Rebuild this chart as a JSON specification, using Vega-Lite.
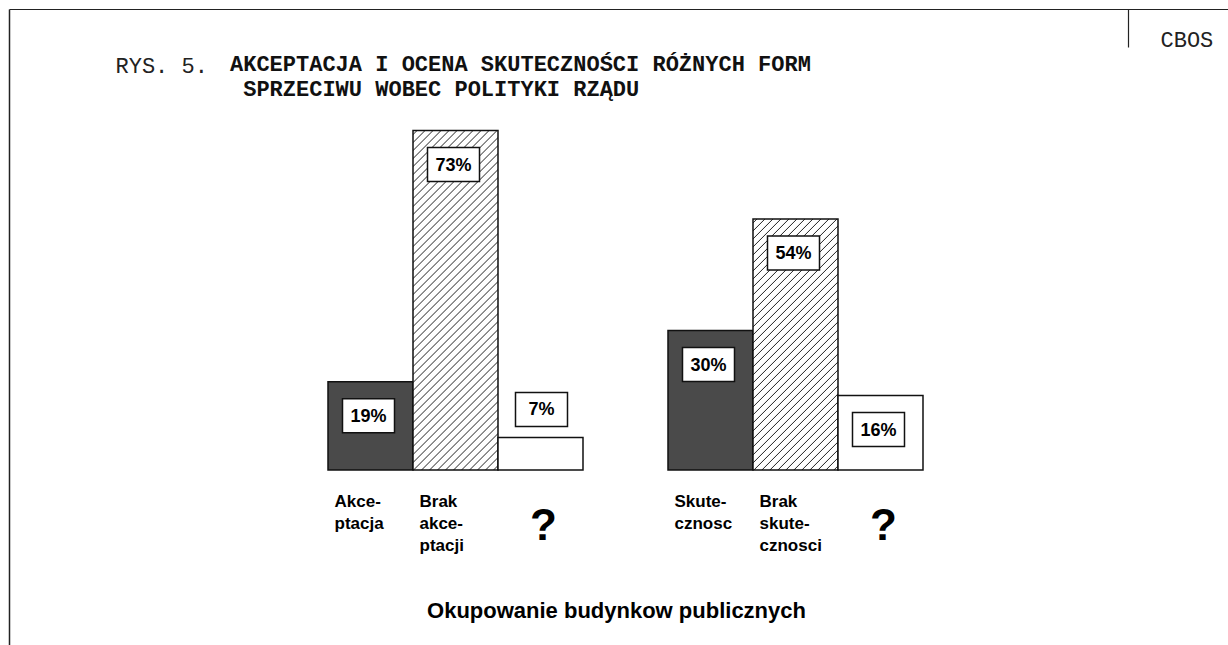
{
 "$schema": "https://vega.github.io/schema/vega-lite/v6.json",
 "width": 1219, "height": 636,
 "autosize": "none",
 "padding": {"left": 9, "top": 9, "right": 0, "bottom": 0},
 "background": "white",
 "config": {"view": {"stroke": null}, "font": "Liberation Sans"},
 "title": {"text": ["AKCEPTACJA I OCENA SKUTECZNOŚCI RÓŻNYCH FORM", "\u200b\u00a0SPRZECIWU WOBEC POLITYKI RZĄDU"], "anchor": "start", "frame": "group", "dx": 221, "dy": 110, "offset": 0, "font": "Liberation Mono", "fontSize": 22, "fontWeight": "bold", "lineHeight": 25, "baseline": "alphabetic", "color": "#111"},
 "data": {"values": [
  {"group": "Akceptacja", "cat": "Akceptacja", "kind": "positive", "value": 19, "label": "19%"},
  {"group": "Akceptacja", "cat": "Brak akceptacji", "kind": "negative", "value": 73, "label": "73%"},
  {"group": "Akceptacja", "cat": "?1", "kind": "unknown", "value": 7, "label": "7%"},
  {"group": "Skutecznosc", "cat": "Skutecznosc", "kind": "positive", "value": 30, "label": "30%"},
  {"group": "Skutecznosc", "cat": "Brak skutecznosci", "kind": "negative", "value": 54, "label": "54%"},
  {"group": "Skutecznosc", "cat": "?2", "kind": "unknown", "value": 16, "label": "16%"}
 ]},
 "encoding": {
  "x": {"field": "cat", "type": "nominal", "scale": {"type": "band", "domain": ["_l1", "_l2", "_l3", "Akceptacja", "Brak akceptacji", "?1", "_", "Skutecznosc", "Brak skutecznosci", "?2", "_r1", "_r2", "_r3"], "paddingInner": 0, "paddingOuter": 0.6706, "align": 0.5614}, "axis": null},
  "y": {"field": "value", "type": "quantitative", "scale": {"domain": [-37.63, 99.14], "nice": false, "zero": false},
        "axis": {"orient": "left", "domain": true, "domainColor": "#222", "domainWidth": 1.5, "ticks": false, "labels": false, "grid": false, "title": "RYS. 5.", "titleFont": "Liberation Mono", "titleFontSize": 22, "titleFontWeight": "normal", "titleAngle": 0, "titleX": 106, "titleY": 63, "titleAlign": "left", "titleBaseline": "alphabetic", "titleColor": "#222"}}
 },
 "layer": [
  {"transform": [{"filter": "datum.kind == 'positive'"}],
   "mark": {"type": "bar", "fill": "#4a4a4a", "stroke": "#111", "strokeWidth": 1.5},
   "encoding": {"x": {"field": "cat", "type": "nominal", "scale": {"type": "band", "domain": ["_l1", "_l2", "_l3", "Akceptacja", "Brak akceptacji", "?1", "_", "Skutecznosc", "Brak skutecznosci", "?2", "_r1", "_r2", "_r3"], "paddingInner": 0, "paddingOuter": 0.6706, "align": 0.5614},
     "axis": {"orient": "bottom", "offset": -173, "domain": false, "ticks": false, "tickSize": 0, "grid": false, "labelAngle": 0,
      "labelExpr": "datum.value == 'Akceptacja' ? ['Akce-', 'ptacja'] : datum.value == 'Brak akceptacji' ? ['Brak', 'akce-', 'ptacji'] : datum.value == 'Skutecznosc' ? ['Skute-', 'cznosc'] : datum.value == 'Brak skutecznosci' ? ['Brak', 'skute-', 'cznosci'] : (datum.value == '?1' || datum.value == '?2') ? '?' : ''",
      "labelFont": "Liberation Sans", "labelFontWeight": "bold",
      "labelFontSize": {"condition": {"test": "datum.value == '?1' || datum.value == '?2'", "value": 44}, "value": 17},
      "labelAlign": {"condition": {"test": "datum.value == '?1' || datum.value == '?2'", "value": "center"}, "value": "left"},
      "labelOffset": {"condition": {"test": "datum.value == '?1' || datum.value == '?2'", "value": 3}, "value": -36},
      "labelPadding": {"condition": {"test": "datum.value == '?1' || datum.value == '?2'", "value": 32}, "value": 21},
      "labelLineHeight": 22, "labelBaseline": "top", "labelColor": "#000", "labelOverlap": false, "labelBound": false, "labelFlush": false, "labelLimit": 300,
      "title": "Okupowanie budynkow publicznych", "titleFont": "Liberation Sans", "titleFontSize": 22, "titleFontWeight": "bold", "titleColor": "#000", "titleX": 607, "titleY": 145, "titleAlign": "center", "titleBaseline": "alphabetic", "titleAngle": 0}}}},
  {"transform": [{"filter": "datum.cat == 'Brak akceptacji'"}],
   "mark": {"type": "bar", "stroke": "#111", "strokeWidth": 1.5,
    "fill": {"gradient": "linear", "x1": 0, "y1": 0, "x2": 0.295, "y2": 1.17812, "stops": [
{"offset":0.00706,"color":"#fff"},{"offset":0.00941,"color":"#222"},{"offset":0.01176,"color":"#fff"},
{"offset":0.02588,"color":"#fff"},{"offset":0.02824,"color":"#222"},{"offset":0.03059,"color":"#fff"},
{"offset":0.04471,"color":"#fff"},{"offset":0.04706,"color":"#222"},{"offset":0.04941,"color":"#fff"},
{"offset":0.06353,"color":"#fff"},{"offset":0.06588,"color":"#222"},{"offset":0.06824,"color":"#fff"},
{"offset":0.08235,"color":"#fff"},{"offset":0.08471,"color":"#222"},{"offset":0.08706,"color":"#fff"},
{"offset":0.10118,"color":"#fff"},{"offset":0.10353,"color":"#222"},{"offset":0.10588,"color":"#fff"},
{"offset":0.12,"color":"#fff"},{"offset":0.12235,"color":"#222"},{"offset":0.12471,"color":"#fff"},
{"offset":0.13882,"color":"#fff"},{"offset":0.14118,"color":"#222"},{"offset":0.14353,"color":"#fff"},
{"offset":0.15765,"color":"#fff"},{"offset":0.16,"color":"#222"},{"offset":0.16235,"color":"#fff"},
{"offset":0.17647,"color":"#fff"},{"offset":0.17882,"color":"#222"},{"offset":0.18118,"color":"#fff"},
{"offset":0.19529,"color":"#fff"},{"offset":0.19765,"color":"#222"},{"offset":0.2,"color":"#fff"},
{"offset":0.21412,"color":"#fff"},{"offset":0.21647,"color":"#222"},{"offset":0.21882,"color":"#fff"},
{"offset":0.23294,"color":"#fff"},{"offset":0.23529,"color":"#222"},{"offset":0.23765,"color":"#fff"},
{"offset":0.25176,"color":"#fff"},{"offset":0.25412,"color":"#222"},{"offset":0.25647,"color":"#fff"},
{"offset":0.27059,"color":"#fff"},{"offset":0.27294,"color":"#222"},{"offset":0.27529,"color":"#fff"},
{"offset":0.28941,"color":"#fff"},{"offset":0.29176,"color":"#222"},{"offset":0.29412,"color":"#fff"},
{"offset":0.30824,"color":"#fff"},{"offset":0.31059,"color":"#222"},{"offset":0.31294,"color":"#fff"},
{"offset":0.32706,"color":"#fff"},{"offset":0.32941,"color":"#222"},{"offset":0.33176,"color":"#fff"},
{"offset":0.34588,"color":"#fff"},{"offset":0.34824,"color":"#222"},{"offset":0.35059,"color":"#fff"},
{"offset":0.36471,"color":"#fff"},{"offset":0.36706,"color":"#222"},{"offset":0.36941,"color":"#fff"},
{"offset":0.38353,"color":"#fff"},{"offset":0.38588,"color":"#222"},{"offset":0.38824,"color":"#fff"},
{"offset":0.40235,"color":"#fff"},{"offset":0.40471,"color":"#222"},{"offset":0.40706,"color":"#fff"},
{"offset":0.42118,"color":"#fff"},{"offset":0.42353,"color":"#222"},{"offset":0.42588,"color":"#fff"},
{"offset":0.44,"color":"#fff"},{"offset":0.44235,"color":"#222"},{"offset":0.44471,"color":"#fff"},
{"offset":0.45882,"color":"#fff"},{"offset":0.46118,"color":"#222"},{"offset":0.46353,"color":"#fff"},
{"offset":0.47765,"color":"#fff"},{"offset":0.48,"color":"#222"},{"offset":0.48235,"color":"#fff"},
{"offset":0.49647,"color":"#fff"},{"offset":0.49882,"color":"#222"},{"offset":0.50118,"color":"#fff"},
{"offset":0.51529,"color":"#fff"},{"offset":0.51765,"color":"#222"},{"offset":0.52,"color":"#fff"},
{"offset":0.53412,"color":"#fff"},{"offset":0.53647,"color":"#222"},{"offset":0.53882,"color":"#fff"},
{"offset":0.55294,"color":"#fff"},{"offset":0.55529,"color":"#222"},{"offset":0.55765,"color":"#fff"},
{"offset":0.57176,"color":"#fff"},{"offset":0.57412,"color":"#222"},{"offset":0.57647,"color":"#fff"},
{"offset":0.59059,"color":"#fff"},{"offset":0.59294,"color":"#222"},{"offset":0.59529,"color":"#fff"},
{"offset":0.60941,"color":"#fff"},{"offset":0.61176,"color":"#222"},{"offset":0.61412,"color":"#fff"},
{"offset":0.62824,"color":"#fff"},{"offset":0.63059,"color":"#222"},{"offset":0.63294,"color":"#fff"},
{"offset":0.64706,"color":"#fff"},{"offset":0.64941,"color":"#222"},{"offset":0.65176,"color":"#fff"},
{"offset":0.66588,"color":"#fff"},{"offset":0.66824,"color":"#222"},{"offset":0.67059,"color":"#fff"},
{"offset":0.68471,"color":"#fff"},{"offset":0.68706,"color":"#222"},{"offset":0.68941,"color":"#fff"},
{"offset":0.70353,"color":"#fff"},{"offset":0.70588,"color":"#222"},{"offset":0.70824,"color":"#fff"},
{"offset":0.72235,"color":"#fff"},{"offset":0.72471,"color":"#222"},{"offset":0.72706,"color":"#fff"},
{"offset":0.74118,"color":"#fff"},{"offset":0.74353,"color":"#222"},{"offset":0.74588,"color":"#fff"},
{"offset":0.76,"color":"#fff"},{"offset":0.76235,"color":"#222"},{"offset":0.76471,"color":"#fff"},
{"offset":0.77882,"color":"#fff"},{"offset":0.78118,"color":"#222"},{"offset":0.78353,"color":"#fff"},
{"offset":0.79765,"color":"#fff"},{"offset":0.8,"color":"#222"},{"offset":0.80235,"color":"#fff"},
{"offset":0.81647,"color":"#fff"},{"offset":0.81882,"color":"#222"},{"offset":0.82118,"color":"#fff"},
{"offset":0.83529,"color":"#fff"},{"offset":0.83765,"color":"#222"},{"offset":0.84,"color":"#fff"},
{"offset":0.85412,"color":"#fff"},{"offset":0.85647,"color":"#222"},{"offset":0.85882,"color":"#fff"},
{"offset":0.87294,"color":"#fff"},{"offset":0.87529,"color":"#222"},{"offset":0.87765,"color":"#fff"},
{"offset":0.89176,"color":"#fff"},{"offset":0.89412,"color":"#222"},{"offset":0.89647,"color":"#fff"},
{"offset":0.91059,"color":"#fff"},{"offset":0.91294,"color":"#222"},{"offset":0.91529,"color":"#fff"},
{"offset":0.92941,"color":"#fff"},{"offset":0.93176,"color":"#222"},{"offset":0.93412,"color":"#fff"},
{"offset":0.94824,"color":"#fff"},{"offset":0.95059,"color":"#222"},{"offset":0.95294,"color":"#fff"},
{"offset":0.96706,"color":"#fff"},{"offset":0.96941,"color":"#222"},{"offset":0.97176,"color":"#fff"},
{"offset":0.98588,"color":"#fff"},{"offset":0.98824,"color":"#222"},{"offset":0.99059,"color":"#fff"}
    ]}}},
  {"transform": [{"filter": "datum.cat == 'Brak skutecznosci'"}],
   "mark": {"type": "bar", "stroke": "#111", "strokeWidth": 1.5,
    "fill": {"gradient": "linear", "x1": 0, "y1": 0, "x2": 0.51401, "y2": 1.5185, "stops": [
{"offset":0.00706,"color":"#fff"},{"offset":0.00941,"color":"#222"},{"offset":0.01176,"color":"#fff"},
{"offset":0.02588,"color":"#fff"},{"offset":0.02824,"color":"#222"},{"offset":0.03059,"color":"#fff"},
{"offset":0.04471,"color":"#fff"},{"offset":0.04706,"color":"#222"},{"offset":0.04941,"color":"#fff"},
{"offset":0.06353,"color":"#fff"},{"offset":0.06588,"color":"#222"},{"offset":0.06824,"color":"#fff"},
{"offset":0.08235,"color":"#fff"},{"offset":0.08471,"color":"#222"},{"offset":0.08706,"color":"#fff"},
{"offset":0.10118,"color":"#fff"},{"offset":0.10353,"color":"#222"},{"offset":0.10588,"color":"#fff"},
{"offset":0.12,"color":"#fff"},{"offset":0.12235,"color":"#222"},{"offset":0.12471,"color":"#fff"},
{"offset":0.13882,"color":"#fff"},{"offset":0.14118,"color":"#222"},{"offset":0.14353,"color":"#fff"},
{"offset":0.15765,"color":"#fff"},{"offset":0.16,"color":"#222"},{"offset":0.16235,"color":"#fff"},
{"offset":0.17647,"color":"#fff"},{"offset":0.17882,"color":"#222"},{"offset":0.18118,"color":"#fff"},
{"offset":0.19529,"color":"#fff"},{"offset":0.19765,"color":"#222"},{"offset":0.2,"color":"#fff"},
{"offset":0.21412,"color":"#fff"},{"offset":0.21647,"color":"#222"},{"offset":0.21882,"color":"#fff"},
{"offset":0.23294,"color":"#fff"},{"offset":0.23529,"color":"#222"},{"offset":0.23765,"color":"#fff"},
{"offset":0.25176,"color":"#fff"},{"offset":0.25412,"color":"#222"},{"offset":0.25647,"color":"#fff"},
{"offset":0.27059,"color":"#fff"},{"offset":0.27294,"color":"#222"},{"offset":0.27529,"color":"#fff"},
{"offset":0.28941,"color":"#fff"},{"offset":0.29176,"color":"#222"},{"offset":0.29412,"color":"#fff"},
{"offset":0.30824,"color":"#fff"},{"offset":0.31059,"color":"#222"},{"offset":0.31294,"color":"#fff"},
{"offset":0.32706,"color":"#fff"},{"offset":0.32941,"color":"#222"},{"offset":0.33176,"color":"#fff"},
{"offset":0.34588,"color":"#fff"},{"offset":0.34824,"color":"#222"},{"offset":0.35059,"color":"#fff"},
{"offset":0.36471,"color":"#fff"},{"offset":0.36706,"color":"#222"},{"offset":0.36941,"color":"#fff"},
{"offset":0.38353,"color":"#fff"},{"offset":0.38588,"color":"#222"},{"offset":0.38824,"color":"#fff"},
{"offset":0.40235,"color":"#fff"},{"offset":0.40471,"color":"#222"},{"offset":0.40706,"color":"#fff"},
{"offset":0.42118,"color":"#fff"},{"offset":0.42353,"color":"#222"},{"offset":0.42588,"color":"#fff"},
{"offset":0.44,"color":"#fff"},{"offset":0.44235,"color":"#222"},{"offset":0.44471,"color":"#fff"},
{"offset":0.45882,"color":"#fff"},{"offset":0.46118,"color":"#222"},{"offset":0.46353,"color":"#fff"},
{"offset":0.47765,"color":"#fff"},{"offset":0.48,"color":"#222"},{"offset":0.48235,"color":"#fff"},
{"offset":0.49647,"color":"#fff"},{"offset":0.49882,"color":"#222"},{"offset":0.50118,"color":"#fff"},
{"offset":0.51529,"color":"#fff"},{"offset":0.51765,"color":"#222"},{"offset":0.52,"color":"#fff"},
{"offset":0.53412,"color":"#fff"},{"offset":0.53647,"color":"#222"},{"offset":0.53882,"color":"#fff"},
{"offset":0.55294,"color":"#fff"},{"offset":0.55529,"color":"#222"},{"offset":0.55765,"color":"#fff"},
{"offset":0.57176,"color":"#fff"},{"offset":0.57412,"color":"#222"},{"offset":0.57647,"color":"#fff"},
{"offset":0.59059,"color":"#fff"},{"offset":0.59294,"color":"#222"},{"offset":0.59529,"color":"#fff"},
{"offset":0.60941,"color":"#fff"},{"offset":0.61176,"color":"#222"},{"offset":0.61412,"color":"#fff"},
{"offset":0.62824,"color":"#fff"},{"offset":0.63059,"color":"#222"},{"offset":0.63294,"color":"#fff"},
{"offset":0.64706,"color":"#fff"},{"offset":0.64941,"color":"#222"},{"offset":0.65176,"color":"#fff"},
{"offset":0.66588,"color":"#fff"},{"offset":0.66824,"color":"#222"},{"offset":0.67059,"color":"#fff"},
{"offset":0.68471,"color":"#fff"},{"offset":0.68706,"color":"#222"},{"offset":0.68941,"color":"#fff"},
{"offset":0.70353,"color":"#fff"},{"offset":0.70588,"color":"#222"},{"offset":0.70824,"color":"#fff"},
{"offset":0.72235,"color":"#fff"},{"offset":0.72471,"color":"#222"},{"offset":0.72706,"color":"#fff"},
{"offset":0.74118,"color":"#fff"},{"offset":0.74353,"color":"#222"},{"offset":0.74588,"color":"#fff"},
{"offset":0.76,"color":"#fff"},{"offset":0.76235,"color":"#222"},{"offset":0.76471,"color":"#fff"},
{"offset":0.77882,"color":"#fff"},{"offset":0.78118,"color":"#222"},{"offset":0.78353,"color":"#fff"},
{"offset":0.79765,"color":"#fff"},{"offset":0.8,"color":"#222"},{"offset":0.80235,"color":"#fff"}
    ]}}},
  {"transform": [{"filter": "datum.kind == 'unknown'"}],
   "mark": {"type": "bar", "fill": "#fff", "stroke": "#111", "strokeWidth": 1.5},
   "encoding": {"x": {"field": "cat", "type": "nominal", "scale": {"type": "band", "domain": ["_l1", "_l2", "_l3", "Akceptacja", "Brak akceptacji", "?1", "_", "Skutecznosc", "Brak skutecznosci", "?2", "_r1", "_r2", "_r3"], "paddingInner": 0, "paddingOuter": 0.6706, "align": 0.5614},
     "axis": {"orient": "top", "domain": true, "domainColor": "#222", "domainWidth": 1, "values": ["_r3"], "ticks": true, "tickSize": -38, "tickOffset": -7.5, "tickColor": "#222", "tickWidth": 1.2, "labels": false, "grid": false, "title": "CBOS", "titleFont": "Liberation Mono", "titleFontSize": 22, "titleFontWeight": "normal", "titleColor": "#222", "titleX": 1151, "titleY": 37, "titleAlign": "left", "titleBaseline": "alphabetic", "titleAngle": 0}}}},
  {"transform": [{"filter": "datum.value >= 10"}],
   "mark": {"type": "point", "shape": "M-1,-0.654H1V0.654H-1Z", "size": 2704, "filled": true, "fill": "#fff", "stroke": "#111", "strokeWidth": 1.5, "opacity": 1, "yOffset": 34, "xOffset": -2}},
  {"transform": [{"filter": "datum.value < 10"}],
   "mark": {"type": "point", "shape": "M-1,-0.654H1V0.654H-1Z", "size": 2704, "filled": true, "fill": "#fff", "stroke": "#111", "strokeWidth": 1.5, "opacity": 1, "yOffset": -28, "xOffset": 1}},
  {"transform": [{"filter": "datum.value >= 10"}],
   "mark": {"type": "text", "font": "Liberation Sans", "fontWeight": "bold", "fontSize": 18, "color": "#000", "baseline": "middle", "align": "center", "yOffset": 35, "xOffset": -2},
   "encoding": {"text": {"field": "label", "type": "nominal"}}},
  {"transform": [{"filter": "datum.value < 10"}],
   "mark": {"type": "text", "font": "Liberation Sans", "fontWeight": "bold", "fontSize": 18, "color": "#000", "baseline": "middle", "align": "center", "yOffset": -27, "xOffset": 1},
   "encoding": {"text": {"field": "label", "type": "nominal"}}}
 ],
 "resolve": {"axis": {"x": "independent"}}
}
